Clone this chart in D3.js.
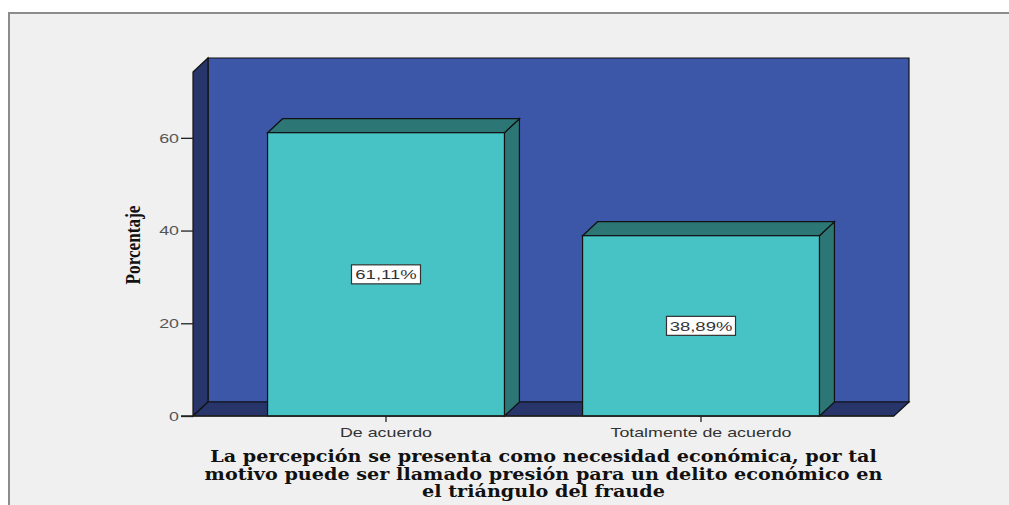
<!DOCTYPE html>
<html>
<head>
<meta charset="utf-8">
<script src="https://cdn.jsdelivr.net/npm/d3@7"></script>
<style>
  html, body { margin: 0; padding: 0; background: #ffffff; overflow: hidden; }
  svg { display: block; }
</style>
</head>
<body>
<svg id="chart" width="1009" height="505"></svg>
<script>
// Data
const categories = ["De acuerdo", "Totalmente de acuerdo"];
const percentages = [61.11, 38.89];
const yTicks = [0, 20, 40, 60];
const yAxisTitle = "Porcentaje";
const titleLines = [
  "La percepción se presenta como necesidad económica, por tal",
  "motivo puede ser llamado presión para un delito económico en",
  "el triángulo del fraude"
];

// Layout
const W = 1009, H = 505;
const plot = { left: 193, right: 894, top: 72, bottom: 416 };
const depth = { dx: 15, dy: 14 };
const stretch = 1.37; // horizontal stretch of the sans labels

const colors = {
  page: "#f0f0f0",
  frame: "#8c8c8c",
  wall: "#3d57a8",
  wallDark: "#27356a",
  barFront: "#47c2c5",
  barDark: "#2c7676",
  outline: "#111111",
  tickText: "#555555",
  text: "#333333"
};

const svg = d3.select("#chart");
const line = d3.line();

// Outer panel: filled area with only top and left edges stroked
svg.append("rect")
  .attr("x", 9).attr("y", 13)
  .attr("width", W - 9).attr("height", H - 13)
  .attr("fill", colors.page);
svg.append("path")
  .attr("d", line([[9, H], [9, 13], [W, 13]]))
  .attr("fill", "none")
  .attr("stroke", colors.frame)
  .attr("stroke-width", 2);

// Scales
const y = d3.scaleLinear().domain([0, 74.2]).range([plot.bottom, plot.top]);
const x = d3.scaleBand()
  .domain(categories)
  .range([plot.left, plot.right])
  .paddingInner(0.248)
  .paddingOuter(0.2367);

const locale = d3.formatLocale({ decimal: ",", thousands: ".", grouping: [3], currency: ["", "€"] });
const fmt = locale.format(".2f");

const dx = depth.dx, dy = depth.dy;
const y0 = y(0), yTop = y.range()[1];

// Back wall
svg.append("path")
  .attr("d", line([[plot.left + dx, yTop - dy], [plot.right + dx, yTop - dy],
                   [plot.right + dx, y0 - dy], [plot.left + dx, y0 - dy]]) + "Z")
  .attr("fill", colors.wall)
  .attr("stroke", colors.outline).attr("stroke-width", 1.2);

// Left wall
svg.append("path")
  .attr("d", line([[plot.left, yTop], [plot.left + dx, yTop - dy],
                   [plot.left + dx, y0 - dy], [plot.left, y0]]) + "Z")
  .attr("fill", colors.wallDark)
  .attr("stroke", colors.outline).attr("stroke-width", 1.2);

// Floor
svg.append("path")
  .attr("d", line([[plot.left, y0], [plot.left + dx, y0 - dy],
                   [plot.right + dx, y0 - dy], [plot.right, y0]]) + "Z")
  .attr("fill", colors.wallDark)
  .attr("stroke", colors.outline).attr("stroke-width", 1.2);

// Bars
const bars = svg.append("g").selectAll("g")
  .data(categories.map((c, i) => ({ cat: c, value: percentages[i] })))
  .join("g");

bars.append("path") // side face
  .attr("d", d => {
    const x1 = x(d.cat) + x.bandwidth(), yv = y(d.value);
    return line([[x1, yv], [x1 + dx, yv - dy], [x1 + dx, y0 - dy], [x1, y0]]) + "Z";
  })
  .attr("fill", colors.barDark)
  .attr("stroke", colors.outline).attr("stroke-width", 1.2);

bars.append("path") // top face
  .attr("d", d => {
    const x0 = x(d.cat), x1 = x0 + x.bandwidth(), yv = y(d.value);
    return line([[x0, yv], [x0 + dx, yv - dy], [x1 + dx, yv - dy], [x1, yv]]) + "Z";
  })
  .attr("fill", colors.barDark)
  .attr("stroke", colors.outline).attr("stroke-width", 1.2);

bars.append("rect") // front face
  .attr("x", d => x(d.cat))
  .attr("y", d => y(d.value))
  .attr("width", x.bandwidth())
  .attr("height", d => y0 - y(d.value))
  .attr("fill", colors.barFront)
  .attr("stroke", colors.outline).attr("stroke-width", 1.2);

// Value labels
const labelW = 69, labelH = 19;
const labels = bars.append("g")
  .attr("transform", d => `translate(${x(d.cat) + x.bandwidth() / 2},${(y(d.value) + y0) / 2})`);
labels.append("rect")
  .attr("x", -labelW / 2).attr("y", -labelH / 2)
  .attr("width", labelW).attr("height", labelH)
  .attr("fill", "#ffffff")
  .attr("stroke", "#333333").attr("stroke-width", 1.2);
labels.append("text")
  .attr("transform", `scale(${stretch},1)`)
  .attr("text-anchor", "middle")
  .attr("dy", "0.36em")
  .attr("font-family", "'Liberation Sans', Arial, sans-serif")
  .attr("font-size", 13.5)
  .attr("fill", colors.text)
  .text(d => fmt(d.value) + "%");

// Y axis
const yAxis = svg.append("g").attr("transform", `translate(${plot.left},0)`)
  .call(d3.axisLeft(y).tickValues(yTicks).tickSize(12).tickPadding(2).tickFormat(d3.format("d")));
yAxis.select(".domain").remove();
yAxis.selectAll(".tick line").attr("stroke", "#222").attr("stroke-width", 1.3);
yAxis.selectAll(".tick text")
  .attr("font-family", "'Liberation Sans', Arial, sans-serif")
  .attr("font-size", 13)
  .attr("fill", colors.tickText)
  .each(function () {
    const t = d3.select(this);
    const xPos = +t.attr("x");
    t.attr("x", null)
      .attr("transform", `translate(${xPos},0) scale(${stretch},1)`);
  });

// X axis
const xAxis = svg.append("g").attr("transform", `translate(0,${y0})`)
  .call(d3.axisBottom(x).tickSize(6).tickPadding(6));
xAxis.select(".domain").remove();
xAxis.selectAll(".tick line").attr("stroke", "#222").attr("stroke-width", 1.3);
xAxis.selectAll(".tick text")
  .attr("font-family", "'Liberation Sans', Arial, sans-serif")
  .attr("font-size", 13)
  .attr("fill", colors.text)
  .each(function () {
    const t = d3.select(this);
    const yPos = +t.attr("y");
    t.attr("y", null).attr("dy", "0.71em")
      .attr("transform", `translate(0,${yPos}) scale(${stretch},1)`);
  });

// Baseline running under the axis
svg.append("line")
  .attr("x1", plot.left - 12).attr("x2", plot.right)
  .attr("y1", y0).attr("y2", y0)
  .attr("stroke", "#222").attr("stroke-width", 1.3);

// Y axis title
svg.append("text")
  .attr("transform", `translate(140,245) rotate(-90) scale(0.82,1)`)
  .attr("text-anchor", "middle")
  .attr("font-family", "'Liberation Serif', 'Times New Roman', serif")
  .attr("font-weight", "bold")
  .attr("font-size", 21)
  .attr("fill", "#111")
  .text(yAxisTitle);

// Chart title (below the axis)
const titleX = (plot.left + plot.right) / 2;
svg.append("g")
  .selectAll("text")
  .data(titleLines)
  .join("text")
  .attr("transform", (d, i) => `translate(${titleX},${462 + i * 17.5}) scale(1.2,1)`)
  .attr("text-anchor", "middle")
  .attr("font-family", "'DejaVu Serif', serif")
  .attr("font-weight", "bold")
  .attr("font-size", 16)
  .attr("fill", "#111")
  .text(d => d);
</script>
</body>
</html>
